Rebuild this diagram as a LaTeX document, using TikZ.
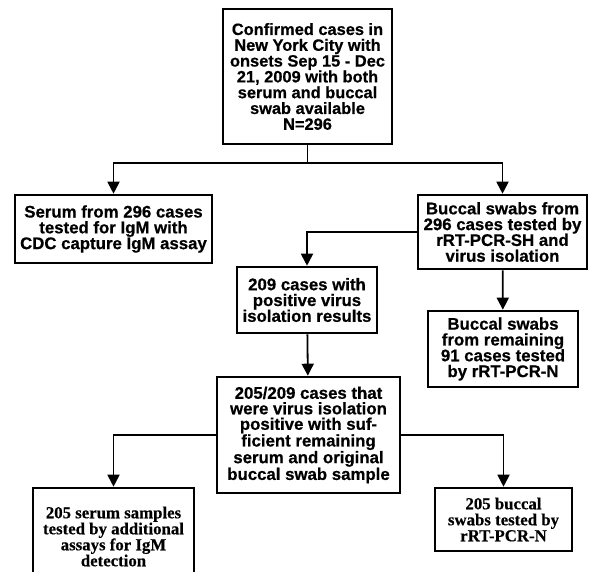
\documentclass[tikz,border=0pt]{standalone}
\usepackage{fontspec}
\setmainfont{Liberation Sans}[BoldFeatures={FakeBold=0.6}]
\newfontfamily\timesbold{Liberation Serif}[BoldFeatures={FakeBold=0.4}]
\usetikzlibrary{arrows.meta,positioning}

\begin{document}
\begin{tikzpicture}[x=1pt,y=-1pt]
		\useasboundingbox (0,0) rectangle (591,571);
		\clip (0,0) rectangle (591,571);
		\begin{scope}[every node/.style={draw,line width=2.6pt,align=center,inner sep=2pt,
				font=\fontsize{16.8}{15.8}\selectfont\bfseries}]
			\node[minimum width=169pt,minimum height=135pt,font=\fontsize{16.4}{15.8}\selectfont\bfseries] (cases) at (307.5,76.5)
				{Confirmed cases in\\New York City with\\onsets Sep 15 - Dec\\21, 2009 with both\\serum and buccal\\swab available\\N=296};
			\node[minimum width=197pt,minimum height=68pt] (serum) at (113.5,229)
				{Serum from 296 cases\\tested for IgM with\\CDC capture IgM assay};
			\node[minimum width=169pt,minimum height=74pt] (buccal) at (502.5,232)
				{Buccal swabs from\\296 cases tested by\\rRT-PCR-SH and\\virus isolation};
			\node[minimum width=140pt,minimum height=66pt] (iso) at (307,300)
				{209 cases with\\positive virus\\isolation results};
			\node[minimum width=150pt,minimum height=76pt] (remain) at (503,349)
				{Buccal swabs\\from remaining\\91 cases tested\\by rRT-PCR-N};
			\node[minimum width=183pt,minimum height=116pt,font=\fontsize{16.8}{15.5}\selectfont\bfseries] (pos) at (308.5,435)
				{205/209 cases that\\were virus isolation\\positive with suf-\\ficient remaining\\serum and original\\buccal swab sample};
			\node[minimum width=161pt,minimum height=97pt,font=\fontsize{16.8}{16}\selectfont\timesbold\bfseries] (sera) at (113.5,536.5)
				{205 serum samples\\tested by additional\\assays for IgM\\detection};
			\node[minimum width=137pt,minimum height=63pt,font=\fontsize{16.8}{16}\selectfont\timesbold\bfseries] (swabs) at (503.5,519.5)
				{205 buccal\\swabs tested by\\rRT-PCR-N};
		\end{scope}
		\coordinate (split) at (307.5,163);
		\begin{scope}[line width=1.8pt,>={Triangle[width=12pt,length=12pt]}]
			\draw (cases) -- (split);
			\draw[->] (split) -| (serum);
			\draw[->] (split) -| (buccal);
			\draw[->] (buccal.west) -| (iso);
			\draw[->] (buccal) -- (remain);
			\draw[->] (iso) -- (pos);
			\draw[->] (pos.west) -| (sera);
			\draw[->] (pos.east) -| (swabs);
		\end{scope}
	\end{tikzpicture}
\end{document}
